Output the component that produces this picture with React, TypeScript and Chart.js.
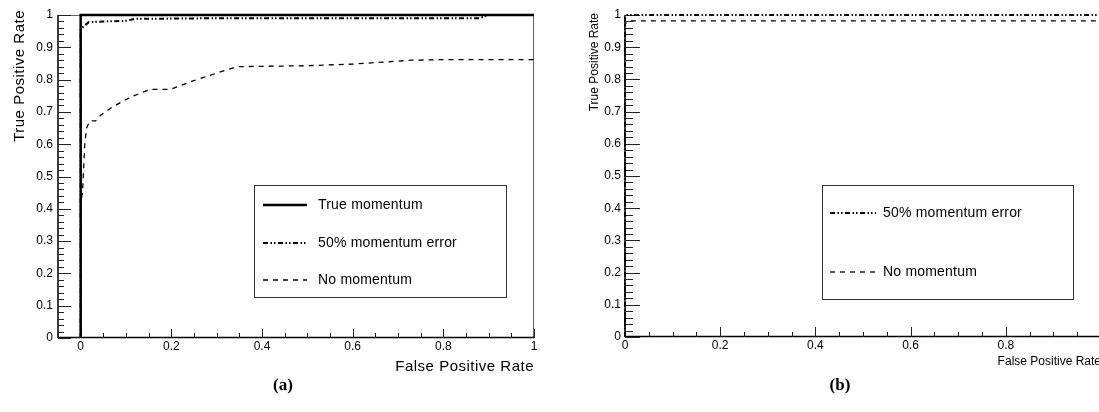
import { useEffect, useRef } from 'react';
import { Chart, registerables } from 'chart.js';

Chart.register(...registerables);

// ---------- data ----------
const X_TICKS = [0, 0.2, 0.4, 0.6, 0.8, 1];
const Y_TICKS = [0, 0.1, 0.2, 0.3, 0.4, 0.5, 0.6, 0.7, 0.8, 0.9, 1];
const B_X_LABELLED = [0, 0.2, 0.4, 0.6, 0.8];

const SERIES_NAMES = ['True momentum', '50% momentum error', 'No momentum'];
const X_TITLE = 'False Positive Rate';
const Y_TITLE = 'True Positive Rate';
const CAPTIONS = ['(a)', '(b)'];

// panel (a)
const A_TRUE_X = [0, 0, 1];
const A_TRUE_Y = [0, 1, 1];
const A_ERR_X = [0, 0, 0.006, 0.018, 0.05, 0.1, 0.12, 0.3, 0.6, 0.88, 0.9, 1];
const A_ERR_Y = [0, 0.955, 0.964, 0.978, 0.98, 0.982, 0.988, 0.99, 0.99, 0.99, 1, 1];
const A_NOMOM_X = [0, 0, 0.004, 0.009, 0.013, 0.02, 0.033, 0.044, 0.07, 0.11, 0.154, 0.198, 0.248, 0.3, 0.345, 0.5, 0.6, 0.73, 0.8, 1];
const A_NOMOM_Y = [0, 0.42, 0.45, 0.6, 0.65, 0.672, 0.672, 0.69, 0.715, 0.746, 0.77, 0.77, 0.796, 0.82, 0.84, 0.843, 0.848, 0.86, 0.862, 0.862];

// panel (b)
const B_ERR_X = [0, 0, 0.005, 1];
const B_ERR_Y = [0, 0.995, 1, 1];
const B_NOMOM_X = [0, 0, 0.008, 1];
const B_NOMOM_Y = [0, 0.972, 0.982, 0.982];

// ---------- styles ----------
const FONT = "'Liberation Sans', Arial, Helvetica, sans-serif";
const SERIF = "'Liberation Serif', 'Times New Roman', serif";

const STYLE_TRUE = { borderColor: '#000', borderWidth: 2.5, borderDash: [] as number[] };
const STYLE_ERR = { borderColor: '#000', borderWidth: 2, borderDash: [5, 2.5, 1.5, 2, 1.5, 2.5] };
const STYLE_NOMOM = { borderColor: '#000', borderWidth: 1.3, borderDash: [5, 5] };

function pts(xs: number[], ys: number[]) {
  return xs.map((x, i) => ({ x, y: ys[i] }));
}

function fmt(v: number) {
  return String(+Number(v).toFixed(1));
}

function ds(label: string, xs: number[], ys: number[], style: any) {
  return {
    label,
    data: pts(xs, ys),
    showLine: true,
    pointRadius: 0,
    pointHoverRadius: 0,
    fill: false,
    tension: 0,
    clip: false as any,
    ...style,
  };
}

function drawText(ctx: CanvasRenderingContext2D, text: string, x: number, y: number, font: string, align: CanvasTextAlign, baseline: CanvasTextBaseline, spacing = 0) {
  ctx.save();
  ctx.font = font;
  ctx.fillStyle = '#000';
  ctx.textAlign = align;
  ctx.textBaseline = baseline;
  (ctx as any).letterSpacing = spacing + 'px';
  ctx.fillText(text, x, y);
  ctx.restore();
}

function rootPlugin(cfg: any) {
  return {
    id: 'rootstyle_' + cfg.id,
    beforeDatasetsDraw(chart: any) {
      const { ctx, chartArea: ca } = chart;
      const xs = chart.scales.x;
      const ys = chart.scales.y;
      ctx.save();
      ctx.setLineDash([]);
      if (cfg.frame) {
        ctx.strokeStyle = '#666';
        ctx.lineWidth = 1;
        ctx.beginPath();
        ctx.moveTo(ca.left, ca.top + 0.5);
        ctx.lineTo(ca.right - 0.5, ca.top + 0.5);
        ctx.lineTo(ca.right - 0.5, ca.bottom);
        ctx.stroke();
      }
      ctx.strokeStyle = '#000';
      ctx.lineWidth = 1.5;
      ctx.beginPath();
      ctx.moveTo(ca.left, ca.top);
      ctx.lineTo(ca.left, ca.bottom);
      ctx.moveTo(ca.left, ca.bottom - 0.5);
      ctx.lineTo(ca.right, ca.bottom - 0.5);
      ctx.stroke();
      ctx.strokeStyle = '#222';
      ctx.lineWidth = 1;
      ctx.beginPath();
      const yN = Math.round((ys.max - ys.min) / 0.02);
      for (let k = 0; k <= yN; k++) {
        const v = ys.min + k * 0.02;
        const py = Math.round(ys.getPixelForValue(v)) + 0.5;
        const len = k % 5 === 0 ? cfg.yMajorLen : cfg.yMinorLen;
        ctx.moveTo(ca.left, py);
        ctx.lineTo(ca.left + len, py);
      }
      const k0 = Math.ceil(xs.min / 0.05 - 1e-6);
      const k1 = Math.floor(xs.max / 0.05 + 1e-6);
      for (let k = k0; k <= k1; k++) {
        const v = k * 0.05;
        const px = Math.round(xs.getPixelForValue(v)) + 0.5;
        const len = ((k % 4) + 4) % 4 === 0 ? cfg.xMajorLen : cfg.xMinorLen;
        ctx.moveTo(px, ca.bottom);
        ctx.lineTo(px, ca.bottom - len);
      }
      ctx.stroke();
      ctx.restore();
    },
    afterDraw(chart: any) {
      const { ctx, chartArea: ca } = chart;
      drawText(ctx, X_TITLE, ca.right, cfg.xTitleBaseline, `${cfg.titleSize}px ${FONT}`, 'right', 'alphabetic', cfg.titleSpacing);
      ctx.save();
      ctx.translate(cfg.yTitleX, cfg.yTitleTop);
      ctx.rotate(-Math.PI / 2);
      drawText(ctx, Y_TITLE, 0, 0, `${cfg.titleSize}px ${FONT}`, 'right', 'alphabetic', cfg.titleSpacing);
      ctx.restore();
      const lg = cfg.legend;
      ctx.save();
      ctx.fillStyle = '#fff';
      ctx.fillRect(lg.box[0], lg.box[1], lg.box[2] - lg.box[0], lg.box[3] - lg.box[1]);
      ctx.strokeStyle = '#333';
      ctx.lineWidth = 1;
      ctx.setLineDash([]);
      ctx.strokeRect(lg.box[0] + 0.5, lg.box[1] + 0.5, lg.box[2] - lg.box[0], lg.box[3] - lg.box[1]);
      for (const row of lg.rows) {
        const dsObj = chart.data.datasets[row.index];
        ctx.save();
        ctx.strokeStyle = dsObj.borderColor;
        ctx.lineWidth = dsObj.borderWidth;
        ctx.setLineDash(dsObj.borderDash || []);
        ctx.beginPath();
        ctx.moveTo(lg.lineX[0], row.y);
        ctx.lineTo(lg.lineX[1], row.y);
        ctx.stroke();
        ctx.restore();
        drawText(ctx, dsObj.label, lg.textX, row.y, `${lg.fontSize}px ${FONT}`, 'left', 'middle', lg.spacing || 0);
      }
      ctx.restore();
      drawText(ctx, cfg.caption.text, cfg.caption.x, cfg.caption.y, `bold 17px ${SERIF}`, 'center', 'alphabetic');
    },
  };
}

function scales(opts: any) {
  return {
    x: {
      type: 'linear',
      min: opts.xMin,
      max: 1,
      afterBuildTicks: (s: any) => {
        s.ticks = X_TICKS.map((v) => ({ value: v }));
      },
      afterFit: (s: any) => {
        s.height = opts.xHeight;
      },
      grid: { display: false, drawTicks: false },
      border: { display: false },
      ticks: {
        autoSkip: false,
        maxRotation: 0,
        padding: 1,
        color: '#000',
        font: { family: FONT, size: 12 },
        callback: (v: number) => (opts.xLabels.some((t: number) => Math.abs(t - v) < 1e-6) ? fmt(v) : ''),
      },
    },
    y: {
      type: 'linear',
      min: 0,
      max: 1,
      afterBuildTicks: (s: any) => {
        s.ticks = Y_TICKS.map((v) => ({ value: v }));
      },
      afterFit: (s: any) => {
        s.width = opts.yWidth;
      },
      grid: { display: false, drawTicks: false },
      border: { display: false },
      ticks: {
        autoSkip: false,
        padding: opts.yPad,
        color: '#000',
        font: { family: FONT, size: 12 },
        callback: (v: number) => fmt(v),
      },
    },
  };
}

function configA(): any {
  return {
    type: 'scatter',
    data: {
      datasets: [
        ds(SERIES_NAMES[0], A_TRUE_X, A_TRUE_Y, STYLE_TRUE),
        ds(SERIES_NAMES[1], A_ERR_X, A_ERR_Y, STYLE_ERR),
        ds(SERIES_NAMES[2], A_NOMOM_X, A_NOMOM_Y, STYLE_NOMOM),
      ],
    },
    options: {
      responsive: false,
      animation: false,
      devicePixelRatio: 1,
      events: [],
      layout: { padding: { left: 0, right: 26, top: 15, bottom: 0 } },
      plugins: { legend: { display: false }, tooltip: { enabled: false }, title: { display: false } },
      scales: scales({ xMin: -0.05, xHeight: 74, yWidth: 58, yPad: 5, xLabels: X_TICKS }),
    },
    plugins: [
      rootPlugin({
        id: 'a',
        frame: true,
        yMajorLen: 13,
        yMinorLen: 6,
        xMajorLen: 9,
        xMinorLen: 5,
        titleSize: 15,
        titleSpacing: 0.5,
        xTitleBaseline: 371,
        yTitleX: 24,
        yTitleTop: 10,
        legend: {
          box: [254, 185, 506, 297],
          lineX: [263, 307],
          textX: 318,
          fontSize: 14,
          spacing: 0.2,
          rows: [
            { index: 0, y: 205 },
            { index: 1, y: 243 },
            { index: 2, y: 280 },
          ],
        },
        caption: { text: CAPTIONS[0], x: 283, y: 390 },
      }),
    ],
  };
}

function configB(): any {
  return {
    type: 'scatter',
    data: {
      datasets: [
        ds(SERIES_NAMES[1], B_ERR_X, B_ERR_Y, STYLE_ERR),
        ds(SERIES_NAMES[2], B_NOMOM_X, B_NOMOM_Y, STYLE_NOMOM),
      ],
    },
    options: {
      responsive: false,
      animation: false,
      devicePixelRatio: 1,
      events: [],
      layout: { padding: { left: 0, right: 19, top: 15, bottom: 0 } },
      plugins: { legend: { display: false }, tooltip: { enabled: false }, title: { display: false } },
      scales: scales({ xMin: 0, xHeight: 75, yWidth: 65, yPad: 4, xLabels: B_X_LABELLED }),
    },
    plugins: [
      rootPlugin({
        id: 'b',
        frame: false,
        yMajorLen: 15,
        yMinorLen: 8,
        xMajorLen: 10,
        xMinorLen: 5,
        titleSize: 12,
        titleSpacing: 0,
        xTitleBaseline: 365,
        yTitleX: 38,
        yTitleTop: 13,
        legend: {
          box: [262, 185, 513, 299],
          lineX: [270, 316],
          textX: 323,
          fontSize: 14,
          spacing: 0.2,
          rows: [
            { index: 0, y: 213 },
            { index: 1, y: 272 },
          ],
        },
        caption: { text: CAPTIONS[1], x: 280, y: 390 },
      }),
    ],
  };
}

export default function App() {
  const refA = useRef<HTMLCanvasElement>(null);
  const refB = useRef<HTMLCanvasElement>(null);
  useEffect(() => {
    const a = new Chart(refA.current as HTMLCanvasElement, configA());
    const b = new Chart(refB.current as HTMLCanvasElement, configB());
    return () => {
      a.destroy();
      b.destroy();
    };
  }, []);
  return (
    <div style={{ position: 'fixed', left: 0, top: 0, width: 1099, height: 412, overflow: 'hidden', background: '#fff' }}>
      <canvas ref={refA} width={560} height={412} style={{ position: 'absolute', left: 0, top: 0, width: 560, height: 412 }} />
      <canvas ref={refB} width={560} height={412} style={{ position: 'absolute', left: 560, top: 0, width: 560, height: 412 }} />
    </div>
  );
}
